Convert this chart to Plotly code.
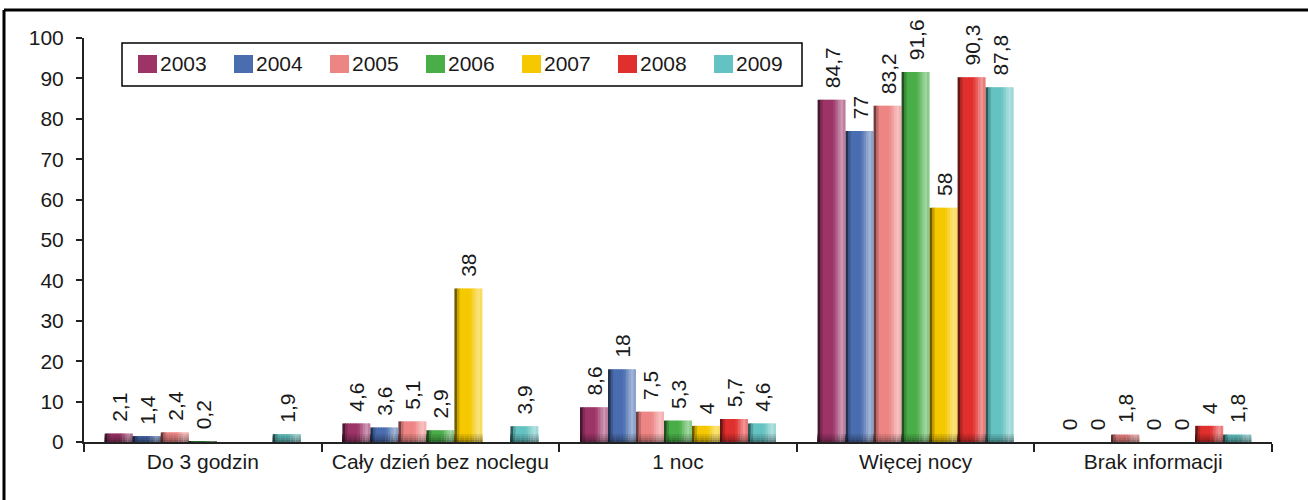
import plotly.graph_objects as go

# Categories, series and values
categories = ["Do 3 godzin", "Cały dzień bez noclegu", "1 noc", "Więcej nocy", "Brak informacji"]
years = ["2003", "2004", "2005", "2006", "2007", "2008", "2009"]
v2003 = [2.1, 4.6, 8.6, 84.7, 0]
v2004 = [1.4, 3.6, 18, 77, 0]
v2005 = [2.4, 5.1, 7.5, 83.2, 1.8]
v2006 = [0.2, 2.9, 5.3, 91.6, 0]
v2007 = [None, 38, 4, 58, 0]
v2008 = [None, None, 5.7, 90.3, 4]
v2009 = [1.9, 3.9, 4.6, 87.8, 1.8]
series = [v2003, v2004, v2005, v2006, v2007, v2008, v2009]
colors = ["#9c3468", "#4a6db0", "#ee8585", "#4aae48", "#f5c800", "#e0302e", "#64c2c2"]
y_ticks = [0, 10, 20, 30, 40, 50, 60, 70, 80, 90, 100]

FONT = "Liberation Sans, Arial, sans-serif"

# Figure geometry (pixels)
W, H = 1308, 500
L, R, T, B = 84, 36, 38, 58
PW, PH = W - L - R, H - T - B


def px_x(x):
    return (x - L) / PW


def px_y(y):
    return (H - B - y) / PH


def hex_rgb(c):
    c = c.lstrip("#")
    return [int(c[i:i + 2], 16) for i in (0, 2, 4)]


def mix_rgb(rgb, other, a):
    return [rgb[i] * (1 - a) + other[i] * a for i in range(3)]


def css(rgb):
    return "rgb({},{},{})".format(*[round(v) for v in rgb])


def shade(c, t):
    # horizontal cylinder-like shading across the bar width (t in 0..1)
    rgb = hex_rgb(c)
    if t < 0.18:
        return mix_rgb(rgb, [0, 0, 0], 0.72 * (1 - t / 0.18))
    if t < 0.55:
        return rgb
    if t < 0.85:
        return mix_rgb(rgb, [255, 255, 255], 0.5 * (t - 0.55) / 0.3)
    return mix_rgb(rgb, [255, 255, 255], 0.5 - 0.2 * (t - 0.85) / 0.15)


def fmt(v):
    # leading no-break spaces keep the rotated label clear of the bar top
    return "" if v is None else "\u00a0\u00a0" + f"{v:g}".replace(".", ",")


fig = go.Figure()

n_series = len(series)
group = 0.825
bw = group / n_series
strips = 11
sw = bw / strips

# darker bands near the base of each bar (height in axis units, darkening)
base_bands = [(2.0, 0.1), (1.5, 0.18), (1.0, 0.28), (0.5, 0.4)]

for i, (vals, col) in enumerate(zip(series, colors)):
    off0 = -group / 2 + i * bw
    for k in range(strips):
        t = (k + 0.5) / strips
        rgb = shade(col, t)
        x0 = off0 + k * sw
        x1 = off0 + min((k + 1.45) * sw, bw)
        mid = k == strips // 2
        fig.add_trace(go.Bar(
            x=categories,
            y=vals,
            offset=x0,
            width=x1 - x0,
            marker=dict(color=css(rgb), line=dict(width=0)),
            text=[fmt(v) for v in vals] if mid else None,
            textposition="outside" if mid else "none",
            textangle=-90,
            constraintext="none",
            cliponaxis=False,
            textfont=dict(family=FONT, size=21, color="#1a1a1a"),
            showlegend=False,
            hoverinfo="skip",
        ))
        for h, a in base_bands:
            fig.add_trace(go.Bar(
                x=categories,
                y=[None if v is None else min(v, h) for v in vals],
                offset=x0,
                width=x1 - x0,
                marker=dict(color=css(mix_rgb(rgb, [0, 0, 0], a)), line=dict(width=0)),
                textposition="none",
                showlegend=False,
                hoverinfo="skip",
            ))

shapes = []
annotations = []

# outer frame (top and left edges)
shapes.append(dict(type="line", xref="paper", yref="paper",
                   x0=px_x(4), x1=px_x(1320), y0=px_y(10), y1=px_y(10),
                   line=dict(color="black", width=3)))
shapes.append(dict(type="line", xref="paper", yref="paper",
                   x0=px_x(4), x1=px_x(4), y0=px_y(10), y1=px_y(510),
                   line=dict(color="black", width=3)))

# legend box
shapes.append(dict(type="rect", xref="paper", yref="paper",
                   x0=px_x(122), x1=px_x(802), y0=px_y(43), y1=px_y(86),
                   line=dict(color="black", width=1.5), fillcolor="white"))
for i, (yr, col) in enumerate(zip(years, colors)):
    sx = 138 + 96 * i
    shapes.append(dict(type="rect", xref="paper", yref="paper",
                       x0=px_x(sx), x1=px_x(sx + 19), y0=px_y(55), y1=px_y(73),
                       line=dict(width=0), fillcolor=col))
    annotations.append(dict(xref="paper", yref="paper", x=px_x(sx + 20), y=px_y(64),
                            text=yr, showarrow=False, xanchor="left", yanchor="middle",
                            font=dict(family=FONT, size=21, color="#1a1a1a")))

fig.update_layout(
    width=W, height=H,
    margin=dict(l=L, r=R, t=T, b=B),
    paper_bgcolor="white", plot_bgcolor="white",
    barmode="overlay",
    showlegend=False,
    shapes=shapes,
    annotations=annotations,
    font=dict(family=FONT, size=21, color="#1a1a1a"),
)
fig.update_xaxes(
    type="category",
    tickson="boundaries",
    ticks="outside", ticklen=8, tickwidth=2, tickcolor="#222",
    showline=True, linecolor="#222", linewidth=2,
    showgrid=False,
    tickfont=dict(family=FONT, size=21, color="#1a1a1a"),
)
fig.update_yaxes(
    range=[0, 100],
    tickvals=y_ticks,
    ticks="outside", ticklen=6, tickwidth=2, tickcolor="#222",
    showline=True, linecolor="#222", linewidth=2,
    showgrid=False, zeroline=False,
    ticklabelstandoff=8,
    tickfont=dict(family=FONT, size=21, color="#1a1a1a"),
)

fig.write_html("out.html")
